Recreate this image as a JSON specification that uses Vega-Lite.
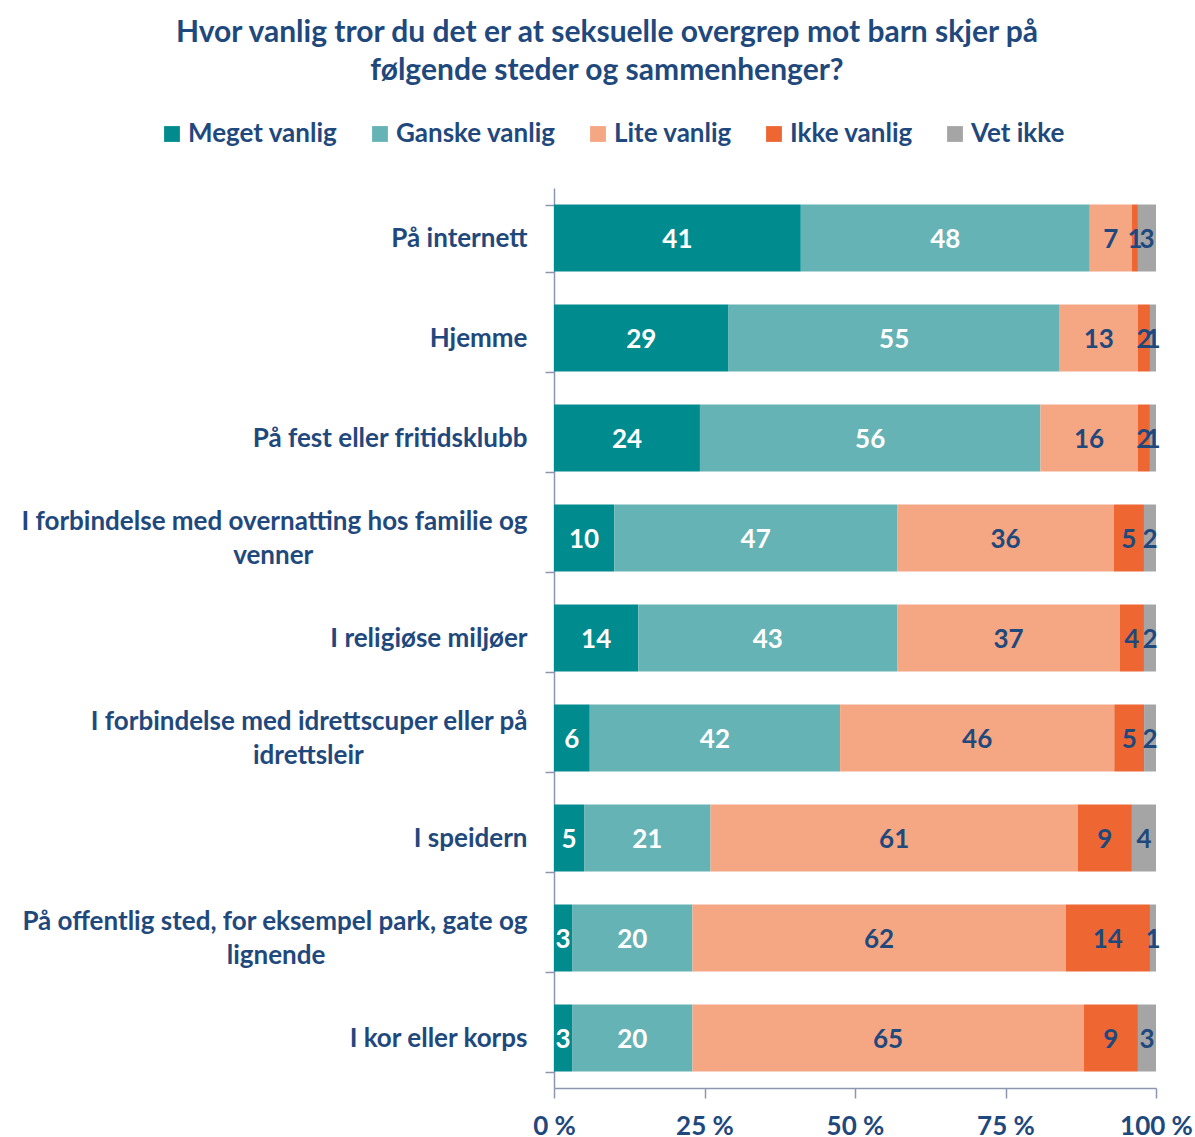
{
  "$schema": "https://vega.github.io/schema/vega-lite/v6.json",
  "width": 602,
  "height": 900,
  "autosize": {"type": "none"},
  "padding": {"left": 554, "top": 188, "right": 39, "bottom": 49},
  "background": "white",
  "view": {"stroke": null},
  "title": {
    "text": ["Hvor vanlig tror du det er at seksuelle overgrep mot barn skjer på", "følgende steder og sammenhenger?"],
    "anchor": "middle",
    "dx": -248,
    "offset": 35,
    "font": "Lato",
    "fontSize": 30,
    "fontWeight": "bold",
    "color": "#1F497D",
    "lineHeight": 38
  },
  "data": {
    "values": [
      {"sted": "På internett", "svar": "Meget vanlig", "verdi": 41},
      {"sted": "På internett", "svar": "Ganske vanlig", "verdi": 48},
      {"sted": "På internett", "svar": "Lite vanlig", "verdi": 7},
      {"sted": "På internett", "svar": "Ikke vanlig", "verdi": 1},
      {"sted": "På internett", "svar": "Vet ikke", "verdi": 3},
      {"sted": "Hjemme", "svar": "Meget vanlig", "verdi": 29},
      {"sted": "Hjemme", "svar": "Ganske vanlig", "verdi": 55},
      {"sted": "Hjemme", "svar": "Lite vanlig", "verdi": 13},
      {"sted": "Hjemme", "svar": "Ikke vanlig", "verdi": 2},
      {"sted": "Hjemme", "svar": "Vet ikke", "verdi": 1},
      {"sted": "På fest eller fritidsklubb", "svar": "Meget vanlig", "verdi": 24},
      {"sted": "På fest eller fritidsklubb", "svar": "Ganske vanlig", "verdi": 56},
      {"sted": "På fest eller fritidsklubb", "svar": "Lite vanlig", "verdi": 16},
      {"sted": "På fest eller fritidsklubb", "svar": "Ikke vanlig", "verdi": 2},
      {"sted": "På fest eller fritidsklubb", "svar": "Vet ikke", "verdi": 1},
      {"sted": "I forbindelse med overnatting hos familie og venner", "svar": "Meget vanlig", "verdi": 10},
      {"sted": "I forbindelse med overnatting hos familie og venner", "svar": "Ganske vanlig", "verdi": 47},
      {"sted": "I forbindelse med overnatting hos familie og venner", "svar": "Lite vanlig", "verdi": 36},
      {"sted": "I forbindelse med overnatting hos familie og venner", "svar": "Ikke vanlig", "verdi": 5},
      {"sted": "I forbindelse med overnatting hos familie og venner", "svar": "Vet ikke", "verdi": 2},
      {"sted": "I religiøse miljøer", "svar": "Meget vanlig", "verdi": 14},
      {"sted": "I religiøse miljøer", "svar": "Ganske vanlig", "verdi": 43},
      {"sted": "I religiøse miljøer", "svar": "Lite vanlig", "verdi": 37},
      {"sted": "I religiøse miljøer", "svar": "Ikke vanlig", "verdi": 4},
      {"sted": "I religiøse miljøer", "svar": "Vet ikke", "verdi": 2},
      {"sted": "I forbindelse med idrettscuper eller på idrettsleir", "svar": "Meget vanlig", "verdi": 6},
      {"sted": "I forbindelse med idrettscuper eller på idrettsleir", "svar": "Ganske vanlig", "verdi": 42},
      {"sted": "I forbindelse med idrettscuper eller på idrettsleir", "svar": "Lite vanlig", "verdi": 46},
      {"sted": "I forbindelse med idrettscuper eller på idrettsleir", "svar": "Ikke vanlig", "verdi": 5},
      {"sted": "I forbindelse med idrettscuper eller på idrettsleir", "svar": "Vet ikke", "verdi": 2},
      {"sted": "I speidern", "svar": "Meget vanlig", "verdi": 5},
      {"sted": "I speidern", "svar": "Ganske vanlig", "verdi": 21},
      {"sted": "I speidern", "svar": "Lite vanlig", "verdi": 61},
      {"sted": "I speidern", "svar": "Ikke vanlig", "verdi": 9},
      {"sted": "I speidern", "svar": "Vet ikke", "verdi": 4},
      {"sted": "På offentlig sted, for eksempel park, gate og lignende", "svar": "Meget vanlig", "verdi": 3},
      {"sted": "På offentlig sted, for eksempel park, gate og lignende", "svar": "Ganske vanlig", "verdi": 20},
      {"sted": "På offentlig sted, for eksempel park, gate og lignende", "svar": "Lite vanlig", "verdi": 62},
      {"sted": "På offentlig sted, for eksempel park, gate og lignende", "svar": "Ikke vanlig", "verdi": 14},
      {"sted": "På offentlig sted, for eksempel park, gate og lignende", "svar": "Vet ikke", "verdi": 1},
      {"sted": "I kor eller korps", "svar": "Meget vanlig", "verdi": 3},
      {"sted": "I kor eller korps", "svar": "Ganske vanlig", "verdi": 20},
      {"sted": "I kor eller korps", "svar": "Lite vanlig", "verdi": 65},
      {"sted": "I kor eller korps", "svar": "Ikke vanlig", "verdi": 9},
      {"sted": "I kor eller korps", "svar": "Vet ikke", "verdi": 3}
    ]
  },
  "transform": [
    {"calculate": "indexof(['Meget vanlig','Ganske vanlig','Lite vanlig','Ikke vanlig','Vet ikke'], datum.svar)", "as": "ord"},
    {"stack": "verdi", "groupby": ["sted"], "sort": [{"field": "ord", "order": "ascending"}], "offset": "normalize", "as": ["x0", "x1"]},
    {"calculate": "(datum.x0 + datum.x1) / 2", "as": "xm"}
  ],
  "encoding": {
    "y": {
      "field": "sted",
      "type": "nominal",
      "sort": ["På internett", "Hjemme", "På fest eller fritidsklubb", "I forbindelse med overnatting hos familie og venner", "I religiøse miljøer", "I forbindelse med idrettscuper eller på idrettsleir", "I speidern", "På offentlig sted, for eksempel park, gate og lignende", "I kor eller korps"],
      "scale": {"paddingInner": 0.33, "paddingOuter": 0.165},
      "axis": {
        "title": null,
        "labelExpr": "datum.value === 'I forbindelse med overnatting hos familie og venner' ? ['I forbindelse med overnatting hos familie og', 'venner' + pad('', 34, '\u00a0') + '\u200b'] : datum.value === 'I forbindelse med idrettscuper eller på idrettsleir' ? ['I forbindelse med idrettscuper eller på', 'idrettsleir' + pad('', 26, '\u00a0') + '\u200b'] : datum.value === 'På offentlig sted, for eksempel park, gate og lignende' ? ['På offentlig sted, for eksempel park, gate og', 'lignende' + pad('', 32, '\u00a0') + '\u200b'] : datum.value",
        "labelOffset": {"condition": {"test": "indexof(['I forbindelse med overnatting hos familie og venner','I forbindelse med idrettscuper eller på idrettsleir','På offentlig sted, for eksempel park, gate og lignende'], datum.value) >= 0", "value": -17}, "value": 0},
        "labelFont": "Lato",
        "labelFontSize": 26,
        "labelFontWeight": "bold",
        "labelColor": "#1F497D",
        "labelLineHeight": 34,
        "labelPadding": 18,
        "labelLimit": 700,
        "tickBand": "extent",
        "tickSize": 9,
        "tickColor": "#8D96AF",
        "tickWidth": 1.5,
        "domainColor": "#8D96AF",
        "domainWidth": 1.5
      }
    }
  },
  "layer": [
    {
      "mark": {"type": "bar"},
      "encoding": {
        "x": {
          "field": "x0",
          "type": "quantitative",
          "scale": {"domain": [0, 1], "nice": false},
          "axis": {
            "title": null,
            "values": [0, 0.25, 0.5, 0.75, 1],
            "labelExpr": "round(datum.value * 100) + ' %'",
            "grid": false,
            "labelFont": "Lato",
            "labelFontSize": 26,
            "labelFontWeight": "bold",
            "labelColor": "#1F497D",
            "labelPadding": 15,
            "labelFlush": false,
            "tickSize": 10,
            "tickColor": "#8D96AF",
            "tickWidth": 1.5,
            "domainColor": "#8D96AF",
            "domainWidth": 1.5
          }
        },
        "x2": {"field": "x1"},
        "color": {
          "field": "svar",
          "type": "nominal",
          "sort": ["Meget vanlig", "Ganske vanlig", "Lite vanlig", "Ikke vanlig", "Vet ikke"],
          "scale": {
            "domain": ["Meget vanlig", "Ganske vanlig", "Lite vanlig", "Ikke vanlig", "Vet ikke"],
            "range": ["#008B8E", "#66B3B6", "#F5A683", "#EE6733", "#A5A5A5"]
          },
          "legend": {
            "title": null,
            "orient": "none",
            "legendX": -395,
            "legendY": -67,
            "direction": "horizontal",
            "symbolType": "square",
            "symbolSize": 250,
            "symbolStrokeWidth": 0,
            "labelFont": "Lato",
            "labelFontSize": 26,
            "labelFontWeight": "bold",
            "labelColor": "#1F497D",
            "labelOffset": 3,
            "columnPadding": 29,
            "labelLimit": 300
          }
        }
      }
    },
    {
      "mark": {"type": "text", "font": "Lato", "fontSize": 26, "fontWeight": "bold", "baseline": "middle", "align": "center", "dy": 2},
      "encoding": {
        "x": {"field": "xm", "type": "quantitative"},
        "text": {"field": "verdi", "type": "quantitative"},
        "color": {"condition": {"test": "datum.ord < 2", "value": "white"}, "value": "#1F497D"}
      }
    }
  ]
}
